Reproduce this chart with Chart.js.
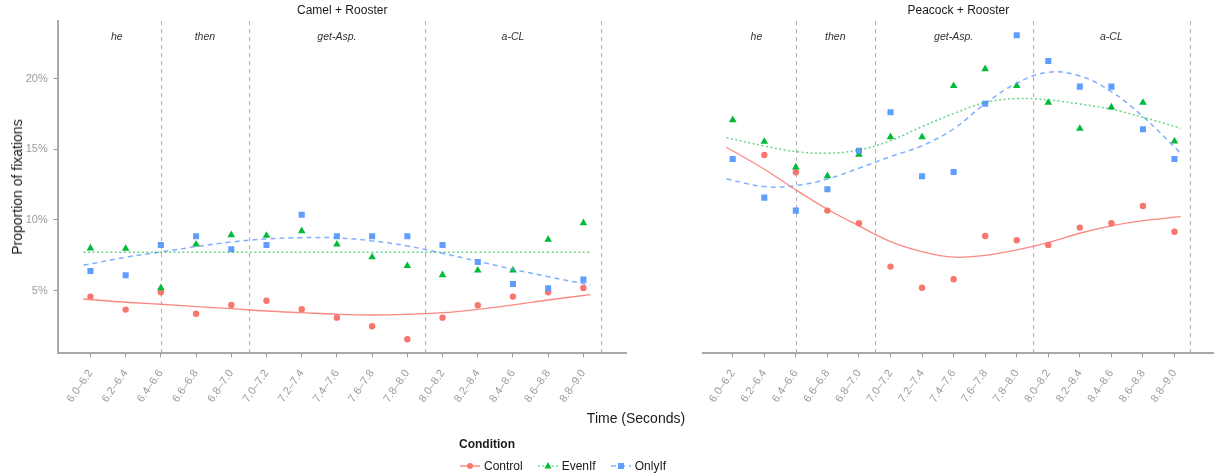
<!DOCTYPE html>
<html>
<head>
<meta charset="utf-8">
<script src="https://cdn.jsdelivr.net/npm/chart.js@4.4.1/dist/chart.umd.min.js"></script>
<style>
  html, body { margin: 0; padding: 0; background: #fff; }
  body { width: 1219px; height: 476px; position: relative; overflow: hidden; font-family: "Liberation Sans", Arial, sans-serif; }
  canvas { position: absolute; top: 0; }
  #camel { left: 0; }
  #peacock { left: 636px; }
  .ytitle { position: absolute; left: 17px; top: 187px; transform: translate(-50%, -50%) rotate(-90deg); font-size: 14px; white-space: nowrap; color: #1a1a1a; }
  .xtitle { position: absolute; left: 636px; top: 418px; transform: translate(-50%, -50%); font-size: 14px; white-space: nowrap; color: #1a1a1a; }
  #legend { position: absolute; left: 459px; top: 437px; color: #1a1a1a; }
  #legend .ltitle { font-size: 12px; font-weight: bold; height: 16px; }
  #legend .items { display: flex; align-items: center; margin-top: 6px; font-size: 12px; }
  #legend .item { display: flex; align-items: center; margin-right: 14px; }
  #legend svg { margin-right: 3px; }
</style>
</head>
<body>
<canvas id="camel" width="636" height="430"></canvas>
<canvas id="peacock" width="583" height="430"></canvas>
<div class="ytitle">Proportion of fixations</div>
<div class="xtitle">Time (Seconds)</div>
<div id="legend">
  <div class="ltitle">Condition</div>
  <div class="items"></div>
</div>
<script>
// categories and tick labels
const timeLabels = ['6.0–6.2', '6.2–6.4', '6.4–6.6', '6.6–6.8', '6.8–7.0', '7.0–7.2', '7.2–7.4', '7.4–7.6',
  '7.6–7.8', '7.8–8.0', '8.0–8.2', '8.2–8.4', '8.4–8.6', '8.6–8.8', '8.8–9.0'];
const yTicks = [5, 10, 15, 20];
const conditions = ['Control', 'EvenIf', 'OnlyIf'];
const regionNames = ['he', 'then', 'get-Asp.', 'a-CL'];
const regionBounds = [-0.5, 2, 4.5, 9.5, 14.5];

// Camel + Rooster (percent)
const camelControl = [4.58, 3.66, 4.89, 3.37, 3.99, 4.29, 3.68, 3.09, 2.48, 1.56, 3.09, 3.97, 4.58, 4.89, 5.19];
const camelEvenIf = [8.00, 7.97, 5.19, 8.28, 8.94, 8.89, 9.22, 8.28, 7.37, 6.75, 6.11, 6.44, 6.44, 8.61, 9.79];
const camelOnlyIf = [6.39, 6.09, 8.23, 8.85, 7.93, 8.23, 10.37, 8.85, 8.85, 8.85, 8.23, 7.03, 5.47, 5.17, 5.78];

// Peacock + Rooster (percent)
const peacockControl = [null, 14.60, 13.37, 10.66, 9.77, 6.70, 5.21, 5.81, 8.87, 8.56, 8.23, 9.46, 9.77, 10.99, 9.17];
const peacockEvenIf = [17.07, 15.54, 13.73, 13.11, 14.62, 15.87, 15.87, 19.48, 20.68, 19.48, 18.30, 16.46, 17.97, 18.30, 15.56];
const peacockOnlyIf = [14.31, 11.58, 10.66, 12.17, 14.90, 17.62, 13.09, 13.39, 18.22, 23.06, 21.24, 19.43, 19.43, 16.41, 14.31];

// smoothed trend lines at these category positions
const fitAt = [-0.2, 1, 2, 3, 4, 5, 6, 7, 8, 9, 10, 11, 12, 13, 14.2];
const camelControlFit = [4.41, 4.18, 4.04, 3.87, 3.73, 3.56, 3.44, 3.33, 3.28, 3.33, 3.44, 3.68, 3.99, 4.34, 4.72];
const camelEvenIfFit = [7.71, 7.71, 7.71, 7.71, 7.71, 7.71, 7.71, 7.71, 7.71, 7.71, 7.71, 7.71, 7.71, 7.71, 7.71];
const camelOnlyIfFit = [6.79, 7.36, 7.74, 8.11, 8.44, 8.66, 8.75, 8.73, 8.52, 8.16, 7.64, 7.08, 6.51, 5.99, 5.40];
const peacockControlFit = [15.14, 13.59, 12.12, 10.76, 9.58, 8.47, 7.76, 7.37, 7.50, 7.88, 8.40, 9.06, 9.58, 9.95, 10.23];
const peacockEvenIfFit = [15.82, 15.23, 14.83, 14.72, 14.95, 15.61, 16.60, 17.52, 18.30, 18.58, 18.49, 18.20, 17.83, 17.26, 16.48];
const peacockOnlyIfFit = [12.90, 12.36, 12.43, 12.90, 13.66, 14.48, 15.25, 16.45, 18.22, 19.67, 20.44, 20.18, 19.07, 17.31, 14.72];

const FONT = '"Liberation Sans", Arial, sans-serif';
Chart.defaults.font.family = FONT;

const styles = {
  Control: { color: '#F8766D', line: 'rgba(248,118,109,0.85)', dash: [], shape: 'circle', r: 3.2 },
  EvenIf: { color: '#00BA38', line: 'rgba(0,186,56,0.6)', dash: [2, 2.5], shape: 'triangle', r: 4.4 },
  OnlyIf: { color: '#619CFF', line: 'rgba(97,156,255,0.8)', dash: [5, 4], shape: 'rect', r: 4.3 }
};

const points = vals => vals.map((v, i) => ({ x: i, y: v }));
const curve = vals => vals.map((v, i) => ({ x: fitAt[i], y: v }));

// dashed word boundaries, word labels and facet title
const panelDecor = {
  id: 'panelDecor',
  beforeDatasetsDraw(chart, args, opts) {
    const { ctx, chartArea: a, scales: { x } } = chart;
    ctx.save();
    ctx.strokeStyle = '#b0b0b0';
    ctx.lineWidth = 1;
    ctx.setLineDash([4, 4]);
    regionBounds.slice(1).forEach(v => {
      const px = Math.round(x.getPixelForValue(v)) + 0.5;
      ctx.beginPath();
      ctx.moveTo(px, a.top);
      ctx.lineTo(px, a.bottom);
      ctx.stroke();
    });
    ctx.setLineDash([]);
    ctx.textAlign = 'center';
    ctx.textBaseline = 'middle';
    ctx.fillStyle = '#333';
    ctx.font = 'italic 10.5px ' + FONT;
    regionNames.forEach((name, i) => {
      const mid = (regionBounds[i] + regionBounds[i + 1]) / 2;
      ctx.fillText(name, x.getPixelForValue(mid), 37);
    });
    ctx.fillStyle = '#1a1a1a';
    ctx.font = '12px ' + FONT;
    ctx.fillText(opts.title, (a.left + a.right) / 2, 11);
    ctx.restore();
  }
};

function makePanel(id, title, series, fits, showY) {
  const datasets = [];
  conditions.forEach((name, k) => {
    const s = styles[name];
    datasets.push({
      label: name + ' fit',
      data: curve(fits[k]),
      showLine: true,
      borderColor: s.line,
      borderWidth: name === 'Control' ? 1.3 : 1.5,
      borderDash: s.dash,
      pointRadius: 0,
      tension: 0.4,
      order: 0
    });
    datasets.push({
      label: name,
      data: points(series[k]),
      pointStyle: s.shape,
      pointRadius: s.r,
      backgroundColor: s.color,
      borderColor: s.color,
      borderWidth: 0,
      order: 3 - k
    });
  });

  new Chart(document.getElementById(id), {
    type: 'scatter',
    data: { datasets },
    options: {
      responsive: false,
      animation: false,
      events: [],
      layout: { padding: { top: 21, bottom: 0, left: showY ? 0 : 9.7, right: showY ? 9.3 : 5.7 } },
      plugins: {
        legend: { display: false },
        tooltip: { enabled: false },
        panelDecor: { title }
      },
      scales: {
        x: {
          type: 'linear',
          min: -0.93,
          max: 15.23,
          afterBuildTicks: s => { s.ticks = timeLabels.map((_, i) => ({ value: i })); },
          afterFit: s => { s.height = 76.7; },
          ticks: {
            callback: v => timeLabels[v],
            autoSkip: false,
            minRotation: 55,
            maxRotation: 55,
            color: '#9a9a9a',
            font: { size: 11 },
            padding: 10
          },
          grid: { drawOnChartArea: false, color: '#999', tickLength: 4 },
          border: { color: '#a8a8a8', width: 2 }
        },
        y: {
          display: showY,
          min: 0.57,
          max: 24.07,
          afterBuildTicks: s => { s.ticks = yTicks.map(v => ({ value: v })); },
          afterFit: s => { s.width = 57.7; },
          ticks: {
            callback: v => v + '%',
            color: '#9a9a9a',
            font: { size: 11 },
            padding: 6
          },
          grid: { drawOnChartArea: false, color: '#999', tickLength: 4 },
          border: { color: '#a8a8a8', width: 2 }
        }
      }
    },
    plugins: [panelDecor]
  });
}

makePanel('camel', 'Camel + Rooster',
  [camelControl, camelEvenIf, camelOnlyIf],
  [camelControlFit, camelEvenIfFit, camelOnlyIfFit], true);
makePanel('peacock', 'Peacock + Rooster',
  [peacockControl, peacockEvenIf, peacockOnlyIf],
  [peacockControlFit, peacockEvenIfFit, peacockOnlyIfFit], false);

// legend
const items = document.querySelector('#legend .items');
conditions.forEach(name => {
  const s = styles[name];
  let marker;
  if (s.shape === 'circle') marker = `<circle cx="11" cy="6" r="3" fill="${s.color}"/>`;
  else if (s.shape === 'triangle') marker = `<polygon points="11,2 14.5,8.5 7.5,8.5" fill="${s.color}"/>`;
  else marker = `<rect x="8" y="3" width="6" height="6" fill="${s.color}"/>`;
  const el = document.createElement('div');
  el.className = 'item';
  el.innerHTML = `<svg width="22" height="12"><line x1="1" y1="6" x2="21" y2="6" stroke="${s.line}" stroke-width="1.5" stroke-dasharray="${s.dash.join(' ')}"/>${marker}</svg><span>${name}</span>`;
  items.appendChild(el);
});
</script>
</body>
</html>
